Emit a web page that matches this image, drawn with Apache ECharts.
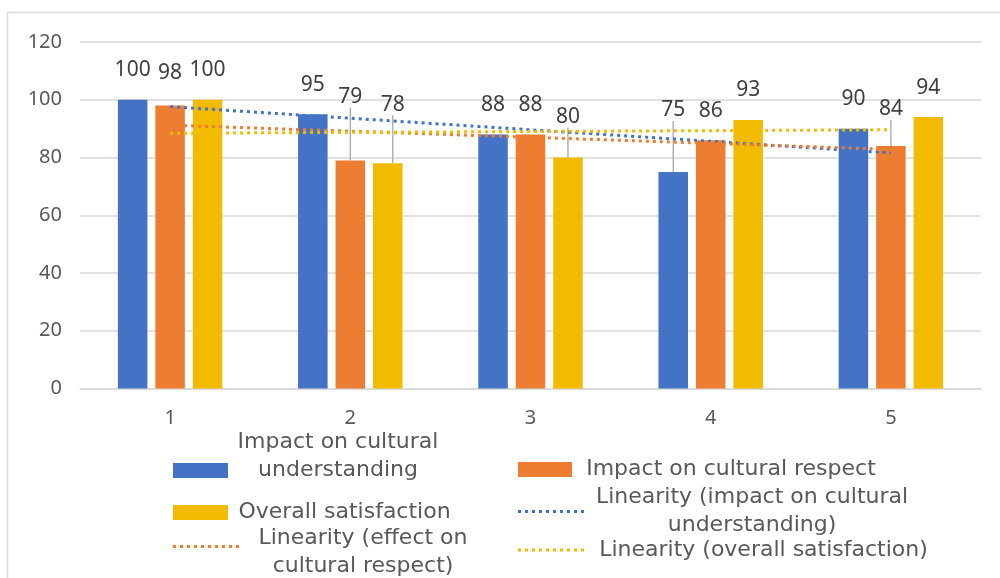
<!DOCTYPE html>
<html>
<head>
<meta charset="utf-8">
<script src="https://cdn.jsdelivr.net/npm/echarts@6/dist/echarts.min.js"></script>
<style>
  html, body { margin: 0; padding: 0; background: #ffffff; }
  #chart { width: 1000px; height: 578px; }
</style>
</head>
<body>
<div id="chart"></div>
<script>
// Category labels along the x axis
const categories = ['1', '2', '3', '4', '5'];

// Bar values per group
const understanding = [100, 95, 88, 75, 90];
const respect = [98, 79, 88, 86, 84];
const satisfaction = [100, 78, 80, 93, 94];

// Linear trend end points (first and last category)
const trendUnderstanding = [97.6, 81.6];
const trendRespect = [91.2, 82.8];
const trendSatisfaction = [88.4, 89.6];

// Y axis ticks
const yTicks = [0, 20, 40, 60, 80, 100, 120];

// Series names
const names = [
  'Impact on cultural understanding',
  'Impact on cultural respect',
  'Overall satisfaction',
  'Linearity (impact on cultural understanding)',
  'Linearity (effect on cultural respect)',
  'Linearity (overall satisfaction)'
];

const colors = ['#4472C4', '#ED7D31', '#F2BA00'];
const FONT = 'Noto Sans';
const LEGEND_FONT = 'DejaVu Sans';
const TEXT = '#595959';

// Vertical shift of value labels pushed up with a leader line [series][category]
const labelShift = [
  [0, 0, 0, -32, 0],
  [-3, -34, 0, 0, -7],
  [0, -29, -11, 0, 0]
];
const labelShiftX = [
  [0, 0, 0, 0, 0],
  [0, 0, 0, 0, 0],
  [0, 5, 0, 0, 0]
];

// Dotted legend key: a row of small square dots
function dottedIcon(count, size, step) {
  let p = 'path://';
  for (let i = 0; i < count; i++) {
    p += 'M' + (i * step) + ',0h' + size + 'v' + size + 'h-' + size + 'z';
  }
  return p;
}
const DOTS = dottedIcon(10, 3, 7);

function barData(values, s) {
  return values.map((v, i) => ({
    value: v,
    labelLine: { show: labelShift[s][i] < -5 }
  }));
}

function trendData(ends) {
  return [[categories[0], ends[0]], [categories[categories.length - 1], ends[1]]];
}

function barSeries(idx, values) {
  return {
    name: names[idx],
    type: 'bar',
    data: barData(values, idx),
    barWidth: 29.5,
    barGap: '27%',
    itemStyle: { color: colors[idx] },
    z: 2,
    label: {
      show: true,
      position: 'top',
      distance: 19,
      color: '#404040',
      fontSize: 21,
      fontFamily: FONT
    },
    labelLine: {
      show: false,
      lineStyle: { color: '#a6a6a6', width: 1.3 }
    },
    labelLayout: function (p) {
      return { dy: labelShift[idx][p.dataIndex], dx: labelShiftX[idx][p.dataIndex] };
    }
  };
}

function trendSeries(idx, ends, color) {
  return {
    name: names[idx],
    type: 'line',
    data: trendData(ends),
    symbol: 'none',
    silent: true,
    z: 3,
    lineStyle: { color: color, width: 3, type: [3, 4], cap: 'butt' },
    itemStyle: { color: color }
  };
}

function legendItem(name, left, top, width, icon, fmt, rich) {
  return {
    data: [{ name: name, icon: icon }],
    left: left,
    top: top,
    padding: 0,
    itemWidth: width,
    itemHeight: 15,
    selectedMode: false,
    formatter: function () { return fmt; },
    textStyle: { color: TEXT, fontSize: 22, fontFamily: LEGEND_FONT, rich: rich }
  };
}

function box(w) {
  return { a: { width: w, align: 'center', lineHeight: 28, color: TEXT, fontSize: 22, fontFamily: LEGEND_FONT },
           e: { lineHeight: 12, fontSize: 10 } };
}

const chart = echarts.init(document.getElementById('chart'), null, { renderer: 'canvas' });

chart.setOption({
  backgroundColor: '#ffffff',
  animation: false,
  graphic: [{
    type: 'rect',
    shape: { x: 7.5, y: 12.5, width: 1100, height: 700 },
    style: { fill: 'none', stroke: '#d9d9d9', lineWidth: 1.5 },
    silent: true,
    z: -10
  }],
  grid: { left: 80, right: 19, top: 42, bottom: 189.5, containLabel: false },
  xAxis: {
    type: 'category',
    data: categories,
    axisLine: { lineStyle: { color: '#d9d9d9', width: 1.5 } },
    axisTick: { show: false },
    axisLabel: { color: TEXT, fontSize: 20, fontFamily: FONT, margin: 20 }
  },
  yAxis: {
    type: 'value',
    min: yTicks[0],
    max: yTicks[yTicks.length - 1],
    interval: yTicks[1] - yTicks[0],
    axisLine: { show: false },
    axisTick: { show: false },
    splitLine: { lineStyle: { color: '#d9d9d9', width: 1.5 } },
    axisLabel: { color: TEXT, fontSize: 20, fontFamily: FONT, margin: 18 }
  },
  legend: [
    legendItem(names[0], 173, 431.5, 55, 'rect', '{a|Impact on cultural}\n{a|understanding}\n{a| }', box(210)),
    legendItem(names[1], 518, 458.5, 54, 'rect', '{a|Impact on cultural respect}', box(308)),
    legendItem(names[2], 173, 501.5, 55, 'rect', '{a|Overall satisfaction}', box(223)),
    legendItem(names[3], 518, 486.5, 66, DOTS, '{a|Linearity (impact on cultural}\n{a|understanding)}', box(326)),
    legendItem(names[4], 173, 513.5, 66, DOTS, '{e| }\n{a|Linearity (effect on}\n{a|cultural respect)}', box(238)),
    legendItem(names[5], 518, 539, 66, DOTS, '{a|Linearity (overall satisfaction)}', box(349))
  ],
  series: [
    barSeries(0, understanding),
    barSeries(1, respect),
    barSeries(2, satisfaction),
    trendSeries(3, trendUnderstanding, colors[0]),
    trendSeries(4, trendRespect, colors[1]),
    trendSeries(5, trendSatisfaction, colors[2])
  ]
});
</script>
</body>
</html>
